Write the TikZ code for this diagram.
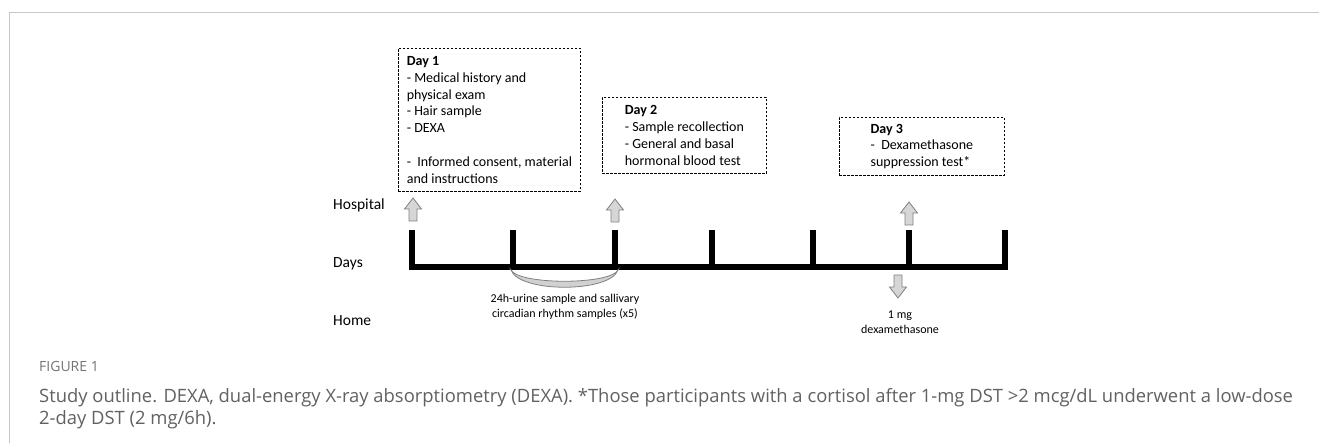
\documentclass[tikz,border=0pt]{standalone}
\usepackage{fontspec}
\setmainfont{Carlito}
\newfontfamily\capfont{Open Sans}
\begin{document}
\begin{tikzpicture}[x=1pt,y=-1pt,
  daybox/.style={draw, dashed, dash pattern=on 2.4pt off 1.6pt, line width=0.8pt,
    anchor=north west, align=left, inner xsep=7pt, inner ysep=4pt,
    font=\fontsize{14}{16.8}\selectfont},
  rowlabel/.style={anchor=west, inner sep=0pt, font=\fontsize{15.5}{17}\selectfont},
  smalltext/.style={align=center, inner sep=0pt, font=\fontsize{12}{15.5}\selectfont},
  axisline/.style={line width=6.5pt, line cap=butt},
  tickline/.style={line width=6pt, line cap=butt},
  blockarrow/.style={draw=black!50, fill=black!16, line width=0.8pt, line join=miter},
  uparrow/.pic={\draw[blockarrow] (-4,0) -- (-4,-12) -- (-8.5,-12) -- (0,-23) -- (8.5,-12) -- (4,-12) -- (4,0) -- cycle;},
  downarrow/.pic={\draw[blockarrow] (-4,0) -- (-4,12) -- (-8.5,12) -- (0,23) -- (8.5,12) -- (4,12) -- (4,0) -- cycle;},
  framerule/.style={draw=black!22, line width=0.9pt}
]
\useasboundingbox (0,0) rectangle (1319,443);

% outer frame of the figure panel
\draw[framerule] (9,443) -- (9,12.5) -- (1319,12.5);

% visit boxes
\node[daybox, minimum width=182pt, minimum height=143pt] (day1) at (398,48)
  {\textbf{Day 1}\\- Medical history and\\physical exam\\- Hair sample\\- DEXA\\[16.8pt]-\ \ Informed consent, material\\and instructions};
\node[daybox, minimum width=164pt, minimum height=76pt] (day2) at (602,97)
  {\textbf{Day 2}\\- Sample recollection\\- General and basal\\hormonal blood test};
\node[daybox, minimum width=165pt, minimum height=58pt, inner ysep=3pt] (day3) at (839,117)
  {\textbf{Day 3}\\-\ \ Dexamethasone\\suppression test*};

% row labels
\node[rowlabel] (hosp) at (333,205) {Hospital};
\node[rowlabel] (days) at (333,264) {Days};
\node[rowlabel] (home) at (333,321) {Home};

% day ticks on the time axis
\foreach \i/\x in {1/412,2/513,3/615,4/712,5/813,6/909,7/1005}{
  \coordinate (t\i) at (\x,267);
  \coordinate (top\i) at (\x,230);
}
\draw[axisline] (409,267) -- (1008,267);
\foreach \i in {1,...,7}{ \draw[tickline] (t\i) -- (top\i); }

% hospital visits
\pic at (413,221) {uparrow};
\pic at (615,222) {uparrow};
\pic at (909,225) {uparrow};

% dexamethasone taken at home
\pic at (898,275) {downarrow};
\node[smalltext] (dexa) at (900,322) {1 mg\\dexamethasone};

% home sampling period between day ticks 2 and 3
\coordinate (ca) at (511,270);
\coordinate (cb) at (618,270);
\draw[draw=black!50, fill=black!18, line width=0.8pt]
  (ca) .. controls (519,293) and (610,293) .. (cb)
       .. controls (610,285) and (519,285) .. (ca) -- cycle;
\node[smalltext] (samples) at (565,307) {24h-urine sample and sallivary\\circadian rhythm samples (x5)};

% caption
\node[anchor=west, inner sep=0pt, text=black!55, font=\capfont\fontsize{14}{16}\selectfont] (figlabel) at (39,366) {FIGURE 1};
\node[anchor=north west, inner sep=0pt, align=left, text=black!62, font=\capfont\fontsize{18.4}{22}\selectfont] (caption) at (39,388)
  {Study outline. DEXA, dual-energy X-ray absorptiometry (DEXA). *Those participants with a cortisol after 1-mg DST >2 mcg/dL underwent a low-dose\\2-day DST (2 mg/6h).};
\end{tikzpicture}
\end{document}
